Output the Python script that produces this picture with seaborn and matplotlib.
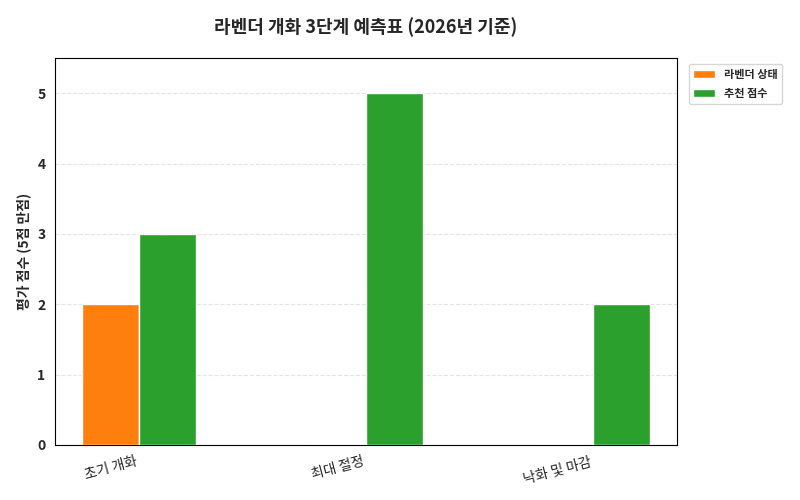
import matplotlib
matplotlib.use("Agg")
import matplotlib.pyplot as plt
import seaborn as sns
import pandas as pd

stages = ['초기 개화', '최대 절정', '낙화 및 마감']
lavender = [2, 0, 0]
score = [3, 5, 2]
series = ['라벤더 상태', '추천 점수']

sns.set_style("white")
plt.rcParams['font.family'] = ['Noto Sans CJK KR', 'DejaVu Sans']

df = pd.DataFrame({
    'stage': stages * 2,
    'value': lavender + score,
    'series': [series[0]] * 3 + [series[1]] * 3,
})

fig, ax = plt.subplots(figsize=(8, 5), dpi=100)
sns.barplot(data=df, x='stage', y='value', hue='series', width=0.5,
            palette=['#ff7f0e', '#2ca02c'], saturation=1, ax=ax, zorder=3)

ax.set_ylim(0, 5.5)
ax.set_xlim(-0.37, 2.37)
ax.set_xlabel('')
ax.set_ylabel('평가 점수 (5점 만점)', fontsize=10, fontweight='bold')
ax.set_title('라벤더 개화 3단계 예측표 (2026년 기준)', fontsize=13, fontweight='bold', pad=18)
ax.grid(True, axis='y', linestyle='--', alpha=0.5, zorder=0)
plt.setp(ax.get_xticklabels(), rotation=15, ha='right', fontsize=10)
plt.setp(ax.get_yticklabels(), fontweight='bold', fontsize=10)
for s in ax.spines.values():
    s.set_visible(True)
    s.set_color('black')
ax.legend(loc='upper left', bbox_to_anchor=(1.01, 1.0), prop={'weight': 'bold', 'size': 8})

fig.subplots_adjust(left=0.069, right=0.846, top=0.884, bottom=0.11)
fig.savefig('out.png')
